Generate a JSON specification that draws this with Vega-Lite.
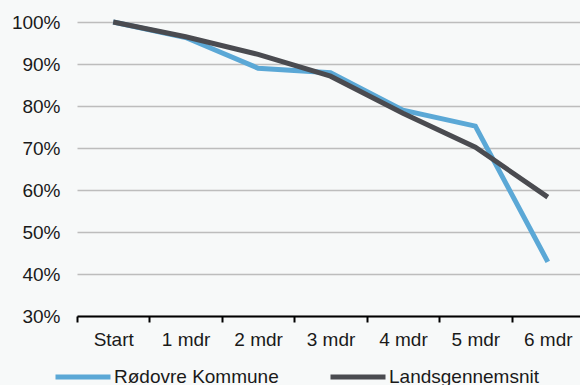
{
  "$schema": "https://vega.github.io/schema/vega-lite/v6.json",
  "width": 507,
  "height": 294,
  "autosize": {"type": "none"},
  "padding": {"left": 77, "top": 22, "right": 0, "bottom": 69},
  "background": "#f7f9f9",
  "config": {
    "view": {"stroke": null},
    "font": "Liberation Sans",
    "axis": {"labelFont": "Liberation Sans", "labelColor": "#1a1a1a", "labelFontSize": 19}
  },
  "data": {
    "values": [
      {"t": "Start", "serie": "Rødovre Kommune", "v": 1.0},
      {"t": "1 mdr", "serie": "Rødovre Kommune", "v": 0.963},
      {"t": "2 mdr", "serie": "Rødovre Kommune", "v": 0.89},
      {"t": "3 mdr", "serie": "Rødovre Kommune", "v": 0.879},
      {"t": "4 mdr", "serie": "Rødovre Kommune", "v": 0.79},
      {"t": "5 mdr", "serie": "Rødovre Kommune", "v": 0.752},
      {"t": "6 mdr", "serie": "Rødovre Kommune", "v": 0.429},
      {"t": "Start", "serie": "Landsgennemsnit", "v": 1.0},
      {"t": "1 mdr", "serie": "Landsgennemsnit", "v": 0.965},
      {"t": "2 mdr", "serie": "Landsgennemsnit", "v": 0.923},
      {"t": "3 mdr", "serie": "Landsgennemsnit", "v": 0.871},
      {"t": "4 mdr", "serie": "Landsgennemsnit", "v": 0.783},
      {"t": "5 mdr", "serie": "Landsgennemsnit", "v": 0.702},
      {"t": "6 mdr", "serie": "Landsgennemsnit", "v": 0.583}
    ]
  },
  "mark": {"type": "line", "strokeWidth": 5, "strokeCap": "butt", "strokeJoin": "miter"},
  "encoding": {
    "x": {
      "field": "t", "type": "ordinal",
      "sort": ["Start", "1 mdr", "2 mdr", "3 mdr", "4 mdr", "5 mdr", "6 mdr"],
      "scale": {"type": "band", "paddingInner": 0, "paddingOuter": 0},
      "axis": {
        "title": null, "labelAngle": 0, "tickBand": "extent",
        "domainColor": "#000000", "domainWidth": 2,
        "tickColor": "#000000", "tickWidth": 2, "tickSize": 6,
        "labelPadding": 8, "grid": false
      }
    },
    "y": {
      "field": "v", "type": "quantitative",
      "scale": {"domain": [0.3, 1.0], "nice": false, "zero": false},
      "axis": {
        "title": null, "format": ".0%", "values": [0.3, 0.4, 0.5, 0.6, 0.7, 0.8, 0.9, 1.0],
        "domain": false, "ticks": false, "labelPadding": 17,
        "grid": true, "gridColor": "#bdbdbd", "gridWidth": 1.5
      }
    },
    "color": {
      "field": "serie", "type": "nominal",
      "sort": ["Rødovre Kommune", "Landsgennemsnit"],
      "scale": {"domain": ["Rødovre Kommune", "Landsgennemsnit"], "range": ["#5ba8d6", "#4a4b50"]},
      "legend": {
        "title": null, "orient": "none", "legendX": -24, "legendY": 325,
        "direction": "horizontal",
        "symbolType": "stroke", "symbolSize": 3025, "symbolStrokeWidth": 5,
        "labelFontSize": 19, "labelFont": "Liberation Sans", "labelColor": "#1a1a1a",
        "labelOffset": 1, "columnPadding": 41, "labelLimit": 300
      }
    },
    "order": {"field": "serie", "sort": "descending"}
  }
}
